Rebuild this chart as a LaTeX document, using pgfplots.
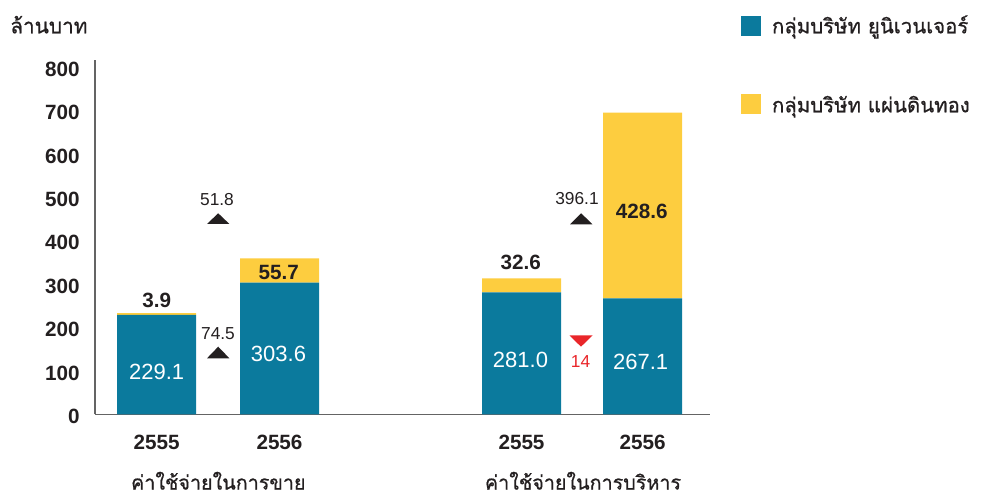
\documentclass[border=0pt]{standalone}
\usepackage{fontspec}
\setmainfont{Liberation Sans}
\newfontfamily\thaifont[Script=Thai, FakeBold=0.8]{Loma}
\usepackage{pgfplots}
\pgfplotsset{compat=1.18}
\definecolor{teal1}{RGB}{11,122,157}
\definecolor{gold1}{RGB}{253,205,63}
\definecolor{txt}{RGB}{35,31,32}
\definecolor{redt}{RGB}{233,38,42}
\definecolor{axgray}{RGB}{100,100,100}
\begin{document}
\begin{tikzpicture}
\path[use as bounding box] (0pt,-63.525pt) rectangle (738pt,310.725pt);
\begin{axis}[
  anchor=south west, at={(71.25pt,0pt)},
  x=0.75pt, y=0.325275pt,
  xmin=95, xmax=710, ymin=0, ymax=817,
  axis x line=bottom, axis y line=left,
  every outer x axis line/.append style={-},
  every outer y axis line/.append style={-},
  axis line style={-, draw=axgray, line width=0.9pt},
  major tick length=0pt, tick style={draw=none},
  ytick={0,100,200,300,400,500,600,700,800},
  xtick={156.7,279.5,521.5,642.7},
  xticklabels={2555,2556,2555,2556},
  /pgf/number format/assume math mode=true,
  yticklabel style={font=\bfseries\fontsize{15.5}{16}\selectfont, text=txt, inner sep=0pt, anchor=east, xshift=-11.3pt, yshift=-1.5pt},
  xticklabel style={font=\bfseries\fontsize{15.5}{16}\selectfont, text=txt, inner sep=0pt, anchor=north, yshift=-15.5pt},
  ybar stacked, bar width=59.25pt,
  clip=false,
]
\addplot[fill=teal1, draw=none] coordinates {(156.7,229.1) (279.5,303.6) (521.5,281.0) (642.7,267.1)};
\addplot[fill=gold1, draw=none] coordinates {(156.7,3.9) (279.5,55.7) (521.5,32.6) (642.7,428.6)};

% anchor points for labels
\coordinate (w1) at (axis cs:156.7,97.5);
\coordinate (w2) at (axis cs:278.5,139);
\coordinate (w3) at (axis cs:520.5,125.9);
\coordinate (w4) at (axis cs:640.7,119.9);
\coordinate (d1) at (axis cs:156.7,263.5);
\coordinate (d2) at (axis cs:278.7,328.1);
\coordinate (d3) at (axis cs:520.7,350);
\coordinate (d4) at (axis cs:641.7,468);
\coordinate (c1) at (axis cs:217,496);
\coordinate (c2) at (axis cs:218,186.8);
\coordinate (c3) at (axis cs:577,498);
\coordinate (c4) at (axis cs:580.5,120.6);
\coordinate (k1) at (axis cs:218.3,-173.5);
\coordinate (k2) at (axis cs:583,-173.5);
\coordinate (yl) at (axis cs:10,878.5);
\coordinate (l1) at (axis cs:771.7,878.5);
\coordinate (l2) at (axis cs:771.7,696.3);

% change markers
\fill[txt] (axis cs:207,438.8) -- (axis cs:218.2,463.5) -- (axis cs:229.4,438.8) -- cycle;
\fill[txt] (axis cs:207,129.1) -- (axis cs:218.2,155.9) -- (axis cs:229.4,129.1) -- cycle;
\fill[txt] (axis cs:570,438.1) -- (axis cs:581.2,463.5) -- (axis cs:592.4,438.1) -- cycle;
\fill[redt] (axis cs:569.5,181.7) -- (axis cs:581,155.9) -- (axis cs:592.5,181.7) -- cycle;

% legend swatches
\fill[teal1] (axis cs:740.7,872.3) rectangle (axis cs:760.7,919.1);
\fill[gold1] (axis cs:740.7,691.7) rectangle (axis cs:760.7,737.8);
\end{axis}

% value labels
\node[font=\fontsize{16.5}{17}\selectfont, text=white] at (w1) {229.1};
\node[font=\fontsize{16.5}{17}\selectfont, text=white] at (w2) {303.6};
\node[font=\fontsize{16.5}{17}\selectfont, text=white] at (w3) {281.0};
\node[font=\fontsize{16.5}{17}\selectfont, text=white] at (w4) {267.1};
\node[font=\bfseries\fontsize{15.5}{16}\selectfont, text=txt] at (d1) {3.9};
\node[font=\bfseries\fontsize{15.5}{16}\selectfont, text=txt] at (d2) {55.7};
\node[font=\bfseries\fontsize{15.5}{16}\selectfont, text=txt] at (d3) {32.6};
\node[font=\bfseries\fontsize{15.5}{16}\selectfont, text=txt] at (d4) {428.6};
\node[font=\fontsize{13}{14}\selectfont, text=txt] at (c1) {51.8};
\node[font=\fontsize{13}{14}\selectfont, text=txt] at (c2) {74.5};
\node[font=\fontsize{13}{14}\selectfont, text=txt] at (c3) {396.1};
\node[font=\fontsize{13}{14}\selectfont, text=redt] at (c4) {14};

% category labels
\node[font=\thaifont\fontsize{14.8}{16}\selectfont, text=txt, anchor=base, inner sep=0pt] at (k1) {ค่าใช้จ่ายในการขาย};
\node[font=\thaifont\fontsize{14.8}{16}\selectfont, text=txt, anchor=base, inner sep=0pt] at (k2) {ค่าใช้จ่ายในการบริหาร};

% y unit label
\node[font=\thaifont\fontsize{15.6}{17}\selectfont, text=txt, anchor=base west, inner sep=0pt] at (yl) {ล้านบาท};

% legend texts
\node[font=\thaifont\fontsize{15.3}{16}\selectfont, text=txt, anchor=base west, inner sep=0pt] at (l1) {กลุ่มบริษัท ยูนิเวนเจอร์};
\node[font=\thaifont\fontsize{15.3}{16}\selectfont, text=txt, anchor=base west, inner sep=0pt] at (l2) {กลุ่มบริษัท แผ่นดินทอง};
\end{tikzpicture}
\end{document}
